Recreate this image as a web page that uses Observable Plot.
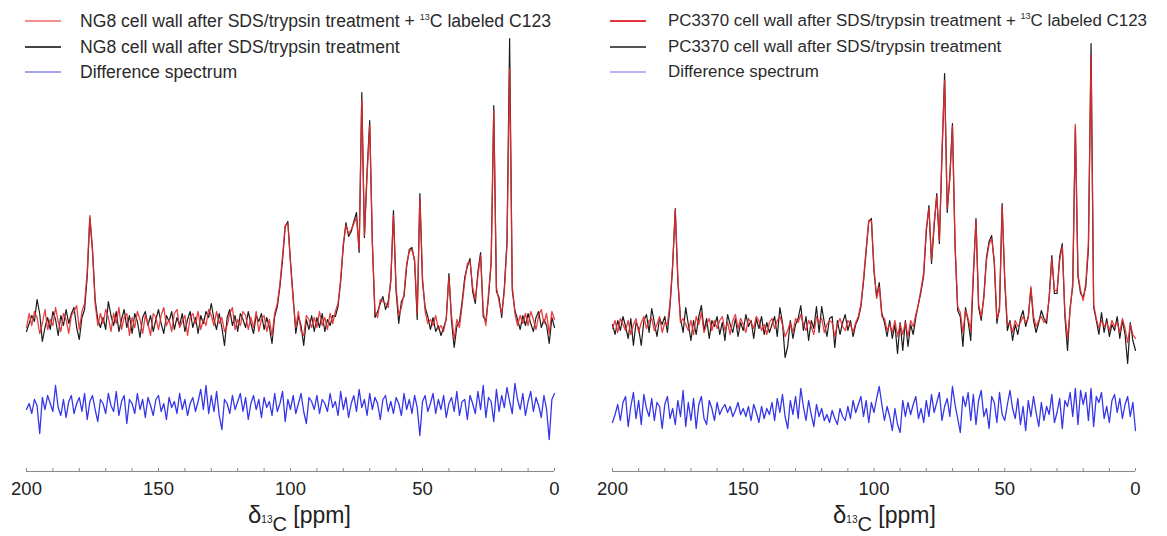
<!DOCTYPE html>
<html>
<head>
<meta charset="utf-8">
<script src="https://cdn.jsdelivr.net/npm/d3@7"></script>
<script src="https://cdn.jsdelivr.net/npm/@observablehq/plot@0.6"></script>
<style>
  body { margin: 0; background: #fff; }
  #fig { position: relative; width: 1167px; height: 536px; overflow: hidden; font-family: "Liberation Sans", Arial, sans-serif; color: #222; }
  .panel { position: absolute; top: 0; }
  .leg { position: absolute; white-space: nowrap; line-height: 20px; color: #2a2a2a; }
  .swatch { position: absolute; height: 2px; }
  .sup { font-size: 9px; position: relative; top: -7px; }
  .xtitle { position: absolute; top: 502px; white-space: nowrap; color: #222; font-size: 23px; line-height: 26px; }
</style>
</head>
<body>
<div id="fig"></div>
<script>
// chemical-shift sampling grid (ppm), 200 -> 0
const ppm = d3.range(200, -1, -1);
const xTicks = [200, 150, 100, 50, 0];
const minorTicks = [200,190,180,170,160,150,140,130,120,110,100,90,80,70,60,50,40,30,20,10,0];

// ---- NG8 panel (intensities above baseline) ----
const ng8Labeled = [
 -6, 8, -4, 10, 4, -12, -2, 12, -8, 2,
 -4, 14, 0, -10, 8, 2, -12, 6, 10, 16,
 -8, 10, 18, 50, 106, 70, 18, -4, 8, -2,
 12, 4, -10, 8, -2, 14, -8, 4, 8, -14,
 4, -6, 10, 2, -12, 6, -2, -14, 8, 4,
 -8, 6, 14, -4, 2, -10, 8, 12, -6, 0,
 6, -14, 4, 8, -2, 10, -8, 2, -4, 12,
 6, -4, 10, -2, 4, -10, -4, 8, 14, -8,
 2, -4, 10, 6, -8, 4, -6, 10, -10, 2,
 6, -10, 2, -14, 8, 18, 38, 66, 96, 98,
 58, 22, -6, 10, -10, -14, 6, 2, -6, 4,
 -6, 10, -4, 4, -8, 8, -2, 10, 18, 42,
 78, 96, 88, 92, 98, 104, 72, 222, 86, 146,
 196, 78, 10, 4, 22, 20, 18, 14, 44, 106,
 34, 6, 14, 28, 58, 70, 72, 62, 8, 124,
 44, 10, -2, 2, -4, 6, -8, -4, -10, 4,
 44, 6, -18, 2, -6, 16, 40, 58, 60, 34,
 22, 46, 66, 10, -4, 28, 58, 210, 34, 20,
 8, 30, 76, 253, 36, 8, -4, 6, -2, 8,
 -4, 10, 2, -8, 6, 12, -2, 8, -12, 10,
 2
];
const ng8Control = [
 -10, -2, 6, 0, 22, 8, -20, -6, 4, -8,
 10, 2, -14, 6, -4, 12, -2, 8, 14, -6,
 -18, 4, 12, 45, 104, 72, 22, 2, -6, 4,
 -8, 20, 6, -4, 10, -10, 2, 12, -6, 6,
 -12, 8, 0, -16, 4, 10, -4, 6, -10, 2,
 12, -2, -12, 6, 0, 10, -8, 4, -4, 8,
 -10, 2, 10, -6, 4, -12, 6, -2, 10, 4,
 18, 2, -8, 8, -6, -24, 4, 12, -4, 6,
 -10, 8, 2, -6, 10, -2, -12, 6, 0, 8,
 -8, 4, -6, -22, 5, 15, 35, 62, 95, 100,
 60, 25, -12, 5, -4, -24, 2, -8, 6, -10,
 4, -6, 8, -10, 2, -4, 6, 5, 15, 40,
 75, 99, 85, 90, 100, 109, 69, 229, 84, 150,
 201, 80, 4, 10, 18, 25, 12, 20, 40, 111,
 30, -2, 20, 25, 55, 72, 74, 60, 2, 128,
 40, 14, 5, -8, 4, -10, -4, -14, -6, 2,
 48, 0, -26, -5, 0, 20, 44, 55, 63, 30,
 18, 50, 69, 5, 0, 24, 60, 216, 30, 24,
 4, 34, 80, 283, 31, 11, 2, -8, 6, -4,
 8, -2, -10, 4, 10, -6, 2, -4, -22, 4,
 -6
];
const ng8Diff = [
 -4, 2, -8, 6, 0, -28, 8, -4, 10, 2,
 -6, 20, -2, -10, 6, -12, 4, 10, -8, 2,
 8, -6, 12, -14, 4, 10, -4, -16, 6, 2,
 -8, 12, 0, -6, 14, -10, 4, 10, -18, 6,
 2, -8, 12, -4, 6, -12, 8, 0, -10, 6,
 10, -6, 2, -14, 8, -2, 4, -8, 12, -4,
 6, -10, 2, 8, -6, 4, 16, -4, 20, -8,
 10, -6, 14, -10, -24, 6, 2, -8, 10, -4,
 4, 12, -6, 8, -14, 2, 10, -4, 6, -12,
 8, -2, 4, -10, 12, -6, 2, 14, -16, 6,
 -4, 10, -8, 2, 12, -6, -18, 8, 4, -4,
 10, -8, 6, 2, -6, 12, -2, 4, -10, 14,
 -4, 8, -12, 2, 10, -6, 16, -2, 6, -10,
 12, -4, 8, 2, -14, 6, 10, -6, 4, -8,
 8, 2, -10, 12, -4, 6, -8, 10, -2, -30,
 4, 10, -6, 2, 12, -8, 6, -4, 10, -12,
 2, 8, -6, 14, -10, 4, 6, -14, 10, 2,
 -8, 14, -4, 20, -12, 8, 4, -16, 16, -6,
 10, -2, 18, 4, -8, 22, 6, -4, 12, -10,
 4, 14, -6, 8, 0, -12, 10, -4, -34, 6,
 12
];

// ---- PC3370 panel ----
const pcLabeled = [
 -2, 6, -6, 8, 2, -4, 6, -8, 2, 8,
 -6, 4, 10, -2, 6, 8, -4, 2, 10, -6,
 4, 2, 24, 62, 116, 48, 4, 8, 2, -4,
 6, -8, 10, 2, 14, -6, 2, 8, -4, 6,
 -2, 6, 10, -4, 4, -8, 6, 12, -2, 8,
 2, -6, 8, 4, -2, 10, 6, -4, 2, -8,
 4, 8, -2, 6, 10, 2, -10, -4, 4, -6,
 8, 4, 12, 2, -4, 6, 0, -8, 10, 4,
 8, -6, 2, 6, 4, -10, 2, 8, 0, -4,
 6, 2, -6, 4, 10, 22, 48, 78, 106, 106,
 58, 28, 40, 10, 8, -4, 2, -6, 6, -10,
 2, -8, 4, -10, 6, 0, 12, 22, 38, 54,
 98, 118, 66, 104, 130, 86, 176, 246, 118, 148,
 200, 82, 20, 14, -6, 16, 8, -4, 54, 106,
 22, 10, 28, 66, 82, 88, 66, 8, 16, 120,
 48, 2, 4, -6, 6, 0, 4, 10, 4, 8,
 40, 10, 0, 6, 10, 4, 8, 28, 68, 36,
 36, 66, 80, 14, -12, 16, 44, 202, 52, 36,
 26, 44, 84, 272, 22, 8, -2, 6, 0, 4,
 -4, 6, 0, 4, -6, 8, -2, -16, 2, -8,
 -12
];
const pcControl = [
 2, -8, 6, -4, 10, 0, -12, 8, -19, 4,
 -2, -19, 6, 12, -6, 18, 4, -10, 8, 2,
 10, -6, 20, 60, 118, 45, 8, -6, 19, 2,
 -14, 6, -8, 10, 21, -4, 8, -12, 6, 0,
 10, -8, 4, -14, 12, 2, -6, 8, -10, 4,
 -4, 12, 0, 6, -12, 8, -2, 10, -8, 4,
 -6, 2, 10, -10, 19, 4, -31, -20, 6, -12,
 2, 8, 21, -4, 10, -14, 6, -2, 20, -6,
 20, 4, -10, 8, 10, -21, 6, -8, 4, 12,
 -4, 6, -10, 2, 8, 20, 45, 75, 105, 108,
 55, 30, 44, 13, 4, -10, 6, -12, 2, -27,
 4, -24, 6, -20, 2, -8, 9, 23, 35, 51,
 95, 121, 63, 100, 133, 83, 170, 253, 114, 150,
 203, 80, 16, 10, -20, 19, 5, -14, 50, 108,
 19, 6, 30, 69, 85, 91, 63, 3, 20, 123,
 45, -4, 6, -14, 2, -8, 8, 16, 0, 10,
 38, 6, -6, 4, 16, 8, 3, 30, 71, 33,
 33, 70, 83, 10, -24, 19, 40, 199, 50, 33,
 29, 40, 78, 283, 19, 6, -8, 14, -6, 8,
 -10, 2, -4, 10, -12, 6, -8, -37, 4, -14,
 -24
];
const pcDiff = [
 -12, -4, 6, -10, 8, 14, -16, 4, 18, -8,
 10, -14, 16, 2, -6, 12, -10, 8, 4, -18,
 6, 14, -8, 2, -14, 10, -6, 20, -16, 8,
 -10, 12, -18, 6, 14, -8, -14, 10, 2, -10,
 8, -4, 2, 6, -2, 4, -6, 0, 8, -4,
 2, -6, 4, -10, 6, -2, -12, 4, -8, 2,
 -4, 8, -10, 12, -2, 16, -6, -18, 10, -4,
 14, -8, 22, 4, -10, 10, -4, -16, 6, -6,
 2, -10, -4, -12, 0, -8, -14, 2, -6, -10,
 4, -8, 10, -2, 6, 14, -6, 10, -12, 8,
 -2, 12, 24, 6, -10, 4, -6, -20, 2, -14,
 -22, 10, -6, 8, -4, 6, 14, -8, 2, -12,
 10, -6, 16, -2, 8, 18, -10, 4, 12, -6,
 24, 6, -8, -22, 14, 4, 18, -10, 16, -14,
 10, 20, -6, 2, -18, 14, 8, -12, 18, -4,
 -10, 6, 20, 2, -8, 12, -14, 4, -20, 10,
 -6, 14, -2, -16, 8, -10, 4, -4, 16, -12,
 -2, 12, -18, 10, 4, 18, -6, 22, -14, 20,
 6, 18, -10, 22, -16, 14, 8, 18, -8, 4,
 -12, 10, 16, -2, 12, -8, 6, 14, -6, 8,
 -20
];

const diffOffset = -84;

const panels = [
  {
    left: 0, width: 583, mL: 26, mR: 29, yDom: [-150, 321],
    labeled: ng8Labeled, control: ng8Control, diff: ng8Diff,
    names: ["NG8 cell wall after SDS/trypsin treatment + ", "NG8 cell wall after SDS/trypsin treatment", "Difference spectrum"],
    sw: ["#f28e8e", "#444", "#a3a3f2"], swL: 25, swW: 36, txL: 80, legFont: 17.6, titleL: 248
  },
  {
    left: 583, width: 584, mL: 29, mR: 32, yDom: [-145, 326],
    labeled: pcLabeled, control: pcControl, diff: pcDiff,
    names: ["PC3370 cell wall after SDS/trypsin treatment + ", "PC3370 cell wall after SDS/trypsin treatment", "Difference spectrum"],
    sw: ["#e3343b", "#555", "#b6b6f8"], swL: 27, swW: 36, txL: 85, legFont: 16.9, titleL: 250
  }
];

const fig = document.getElementById("fig");

for (const p of panels) {
  const wrap = document.createElement("div");
  wrap.className = "panel";
  wrap.style.left = p.left + "px";
  wrap.style.width = p.width + "px";
  wrap.style.height = "536px";

  const chart = Plot.plot({
    width: p.width,
    height: 500,
    marginLeft: p.mL,
    marginRight: p.mR,
    marginTop: 0,
    marginBottom: 29,
    style: { fontFamily: "Liberation Sans, Arial, sans-serif", fontSize: "18.5px", color: "#222", background: "transparent" },
    x: { domain: [200, 0] },
    y: { domain: p.yDom, axis: null },
    marks: [
      Plot.ruleY([p.yDom[0]], { stroke: "#8a8a8a", strokeWidth: 1 }),
      Plot.ruleX(minorTicks, { y1: p.yDom[0], y2: p.yDom[0] + 3, stroke: "#8a8a8a", strokeWidth: 1 }),
      Plot.axisX({ ticks: xTicks, tickSize: 0, tickPadding: 10, tickFormat: d => String(d), fill: "#222" }),
      Plot.lineY(p.diff, { x: ppm, y: d => d + diffOffset, stroke: "#3535ea", strokeWidth: 1.3 }),
      Plot.lineY(p.control, { x: ppm, stroke: "#1c1c1c", strokeWidth: 1.2 }),
      Plot.lineY(p.labeled, { x: ppm, stroke: "#e62a2e", strokeWidth: 1.3, strokeOpacity: 0.9 })
    ]
  });
  chart.style.position = "absolute";
  chart.style.left = "0px";
  chart.style.top = "0px";
  wrap.appendChild(chart);

  // legend
  const rowsY = [21, 47, 72];
  p.names.forEach((name, i) => {
    const s = document.createElement("div");
    s.className = "swatch";
    s.style.left = p.swL + "px";
    s.style.width = p.swW + "px";
    s.style.top = (rowsY[i] - 1) + "px";
    s.style.background = p.sw[i];
    wrap.appendChild(s);
    const t = document.createElement("div");
    t.className = "leg";
    t.style.left = p.txL + "px";
    t.style.top = (rowsY[i] - 10) + "px";
    t.style.fontSize = p.legFont + "px";
    if (i === 0) {
      t.innerHTML = name + '<span class="sup">13</span>C labeled C123';
    } else {
      t.textContent = name;
    }
    wrap.appendChild(t);
  });

  // x-axis title
  const xt = document.createElement("div");
  xt.className = "xtitle";
  xt.style.left = p.titleL + "px";
  xt.innerHTML = '<span style="font-size:24px">δ</span><span style="font-size:10px;position:relative;top:0px">13</span><span style="font-size:20px;position:relative;top:8px">C</span><span> [ppm]</span>';
  wrap.appendChild(xt);

  fig.appendChild(wrap);
}
</script>
</body>
</html>
